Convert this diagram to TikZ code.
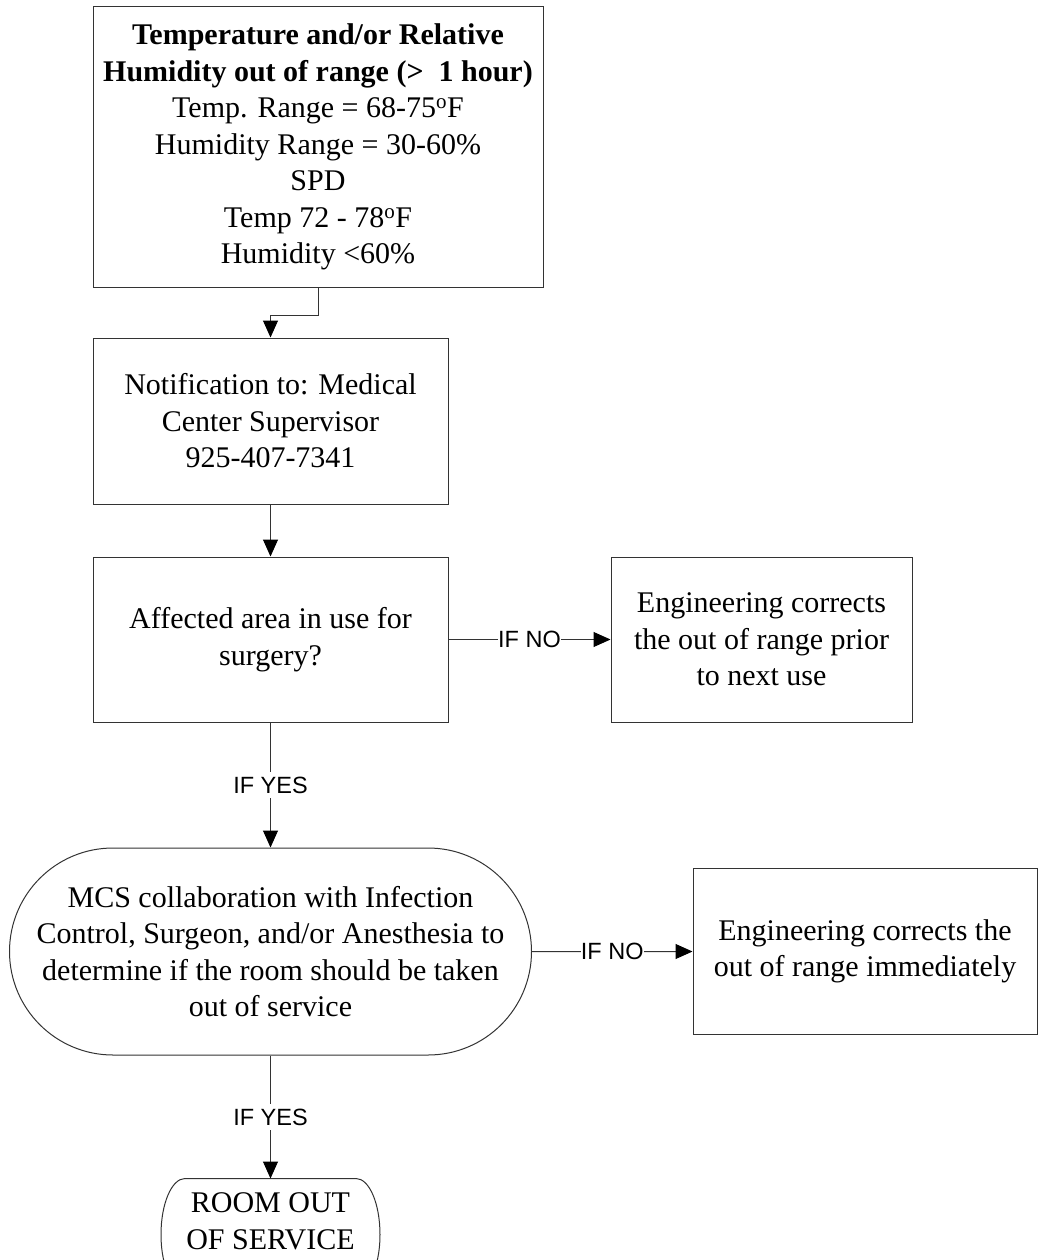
\documentclass[tikz,border=0pt]{standalone}
\usepackage{fontspec}
\setmainfont{Liberation Serif}
\newfontfamily\lblfont{Liberation Sans}
\usepackage{tikz}
\usetikzlibrary{shapes.misc,arrows.meta,positioning}
\usepackage{xcolor}

\begin{document}
\begin{tikzpicture}[x=1pt, y=1pt,
    box/.style={rectangle, draw=black!80, line width=1pt, align=center, inner sep=0pt,
        font=\fontsize{30}{36.5}\selectfont},
    arr/.style={draw=black!80, line width=1pt, -{Triangle[length=17pt, width=15pt, color=black]}},
    lbl/.style={fill=white, inner xsep=0pt, inner ysep=5pt,
        font=\lblfont\fontsize{23.5}{28}\selectfont}]
    \useasboundingbox (0,0) rectangle (1039,-1260);

    % Steps
    \node[box, minimum width=450pt, minimum height=280pt] (temp) at (318,-147)
        {\textbf{Temperature and/or Relative}\\
         \textbf{Humidity out of range (>~ 1 hour)}\\
         Temp. Range = 68-75\textsuperscript{o}F\\
         Humidity Range = 30-60\%\\
         SPD\\
         Temp 72 - 78\textsuperscript{o}F\\
         Humidity <60\%};
    \node[box, minimum width=355pt, minimum height=166pt] (notify) at (270.5,-421)
        {Notification to: Medical\\Center Supervisor\\925-407-7341};
    \node[box, minimum width=355pt, minimum height=165pt] (surg) at (270.5,-639.5)
        {Affected area in use for\\surgery?};
    \node[box, minimum width=301pt, minimum height=165pt] (prior) at (761.5,-639.5)
        {Engineering corrects\\the out of range prior\\to next use};
    \node[box, rounded rectangle, minimum width=522pt, minimum height=207pt] (collab) at (270.5,-951.5)
        {MCS collaboration with Infection\\Control, Surgeon, and/or Anesthesia to\\determine if the room should be taken\\out of service};
    \node[box, minimum width=344pt, minimum height=166pt] (immed) at (865,-951.5)
        {Engineering corrects the\\out of range immediately};
    \node[box, draw=none, minimum width=218pt, minimum height=85pt] (out) at (270.5,-1221.5)
        {ROOM OUT\\OF SERVICE};
    \draw[draw=black!80, line width=1pt] ([xshift=24pt]out.north west) -- ([xshift=-24pt]out.north east)
        arc[start angle=90, end angle=-50, x radius=24, y radius=56];
    \draw[draw=black!80, line width=1pt] ([xshift=24pt]out.north west)
        arc[start angle=90, end angle=230, x radius=24, y radius=56];

    % Connectors
    \draw[arr] (temp.south) -- ++(0,-28) -| (notify.north);
    \draw[arr] (notify) -- (surg);
    \draw[arr] (surg) -- node[lbl] {IF NO} (prior);
    \draw[arr] (surg) -- node[lbl] {IF YES} (collab);
    \draw[arr] (collab) -- node[lbl] {IF NO} (immed);
    \draw[arr] (collab) -- node[lbl] {IF YES} (out);
\end{tikzpicture}
\end{document}
